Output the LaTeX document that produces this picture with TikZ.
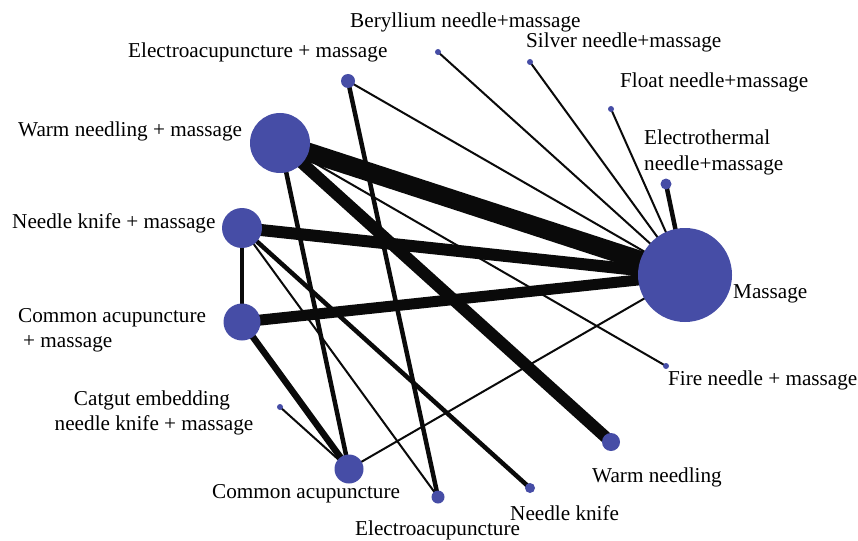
\documentclass[tikz,border=0pt]{standalone}
\usepackage{fontspec}
\setmainfont{Liberation Serif}
\definecolor{nodeblue}{RGB}{70,77,166}
\definecolor{edgeblack}{RGB}{10,10,10}
\pgfdeclarelayer{background}
\pgfsetlayers{background,main}
\begin{document}
\begin{tikzpicture}[x=1pt,y=-1pt,
  trt/.style={circle, fill=nodeblue, inner sep=0pt, minimum size=#1},
  lbl/.style={font=\fontsize{21.2}{24}\selectfont, inner sep=0pt, text=black},
  edge/.style={draw=edgeblack, line width=#1, line cap=butt}]
\useasboundingbox (0,0) rectangle (858,540);
% treatment nodes
\node[trt=94] (M) at (685,275) {};
\node[trt=60] (WNM) at (280,143) {};
\node[trt=40] (NKM) at (242,228) {};
\node[trt=37] (CAM) at (242,322) {};
\node[trt=29] (CA) at (349,469) {};
\node[trt=13] (EA) at (438,497) {};
\node[trt=10] (NK) at (530,488) {};
\node[trt=18] (WN) at (611,442) {};
\node[trt=6] (FN) at (666,366) {};
\node[trt=6] (CG) at (280,407) {};
\node[trt=14] (EAM) at (348,81) {};
\node[trt=6] (BN) at (438,52) {};
\node[trt=6] (SN) at (530,62) {};
\node[trt=6] (FL) at (611,109) {};
\node[trt=11] (ET) at (666,184) {};
% connectors
\begin{pgfonlayer}{background}
\draw[edge=19] (WNM.center) -- (M.center);
\draw[edge=12] (WNM.center) -- (WN.center);
\draw[edge=12] (NKM.center) -- (M.center);
\draw[edge=11] (CAM.center) -- (M.center);
\draw[edge=6.5] (CAM.center) -- (CA.center);
\draw[edge=4.5] (WNM.center) -- (CA.center);
\draw[edge=4.5] (NKM.center) -- (NK.center);
\draw[edge=4.5] (EAM.center) -- (EA.center);
\draw[edge=4.5] (ET.center) -- (M.center);
\draw[edge=4.5] (NKM.center) -- (CAM.center);
\draw[edge=2] (EAM.center) -- (M.center);
\draw[edge=2] (BN.center) -- (M.center);
\draw[edge=2] (SN.center) -- (M.center);
\draw[edge=2] (FL.center) -- (M.center);
\draw[edge=2] (WNM.center) -- (FN.center);
\draw[edge=2] (CA.center) -- (M.center);
\draw[edge=2] (NKM.center) -- (EA.center);
\draw[edge=2] (CG.center) -- (CA.center);
\end{pgfonlayer}
% labels
\node[lbl, anchor=base west] (tBN) at (350,28) {Beryllium needle+massage};
\node[lbl, anchor=base west] (tEAM) at (128,58) {Electroacupuncture + massage};
\node[lbl, anchor=base west] (tSN) at (526,48) {Silver needle+massage};
\node[lbl, anchor=base west] (tFL) at (620,88) {Float needle+massage};
\node[lbl, anchor=base west] (tET1) at (644,145) {Electrothermal};
\node[lbl, anchor=base west] (tET2) at (644,170) {needle+massage};
\node[lbl, anchor=base west] (tWNM) at (18,137) {Warm needling + massage};
\node[lbl, anchor=base west] (tNKM) at (12,228) {Needle knife + massage};
\node[lbl, anchor=base west] (tCAM1) at (18,322) {Common acupuncture};
\node[lbl, anchor=base west] (tCAM2) at (23,347) {+ massage};
\node[lbl, anchor=base west] (tM) at (733,298) {Massage};
\node[lbl, anchor=base west] (tFN) at (668,385) {Fire needle + massage};
\node[lbl, anchor=base] (tCG1) at (152,405) {Catgut embedding};
\node[lbl, anchor=base] (tCG2) at (154,430) {needle knife + massage};
\node[lbl, anchor=base west] (tCA) at (212,498) {Common acupuncture};
\node[lbl, anchor=base west] (tEA) at (355,535) {Electroacupuncture};
\node[lbl, anchor=base west] (tNK) at (510,520) {Needle knife};
\node[lbl, anchor=base west] (tWN) at (592,482) {Warm needling};
\end{tikzpicture}
\end{document}
